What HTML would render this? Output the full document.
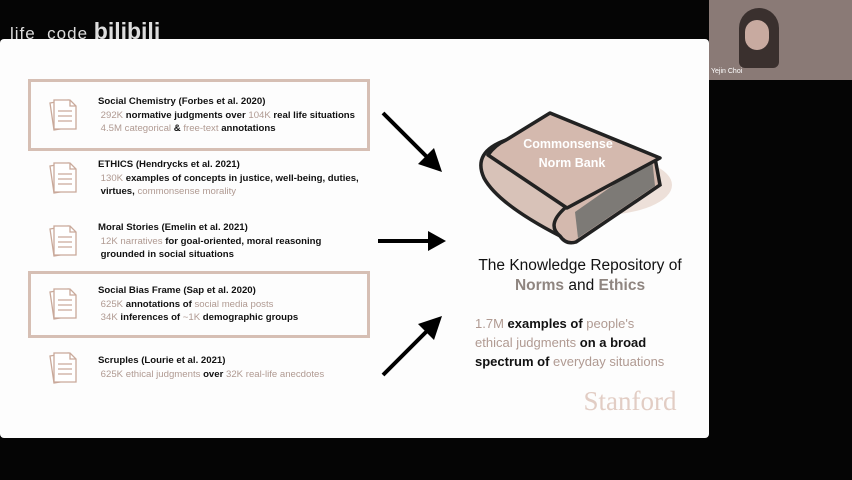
<!DOCTYPE html>
<html><head><style>
body{margin:0;width:852px;height:480px;background:#050505;position:relative;overflow:hidden;font-family:"Liberation Sans","DejaVu Sans",sans-serif}
.slide{position:absolute;left:0;top:39px;width:709px;height:399px;background:#fdfdfd;border-radius:4px}
.wm{position:absolute;left:10px;top:18px;color:#ddd;font-size:17px;letter-spacing:1px}
.wm b{font-size:23px;font-weight:bold;letter-spacing:0}
.cam{position:absolute;left:709px;top:0;width:143px;height:80px;background:#8a7a76}
.box{position:absolute;left:28px;width:336px;border:3px solid #d6bfb4}
.item{position:absolute;left:98px;font-size:9.6px;font-weight:bold;color:#111;line-height:13.5px;white-space:nowrap}
.item .t{font-size:9.6px}
.h{color:#b09a92;font-weight:normal}
.big{position:absolute;font-size:15.5px;color:#111;text-align:center;width:280px;left:440px}
</style></head><body>
<div class="wm">life&nbsp; code <b>bilibili</b></div>
<div class="cam">
<div style="position:absolute;left:30px;top:8px;width:40px;height:60px;background:#3a302e;border-radius:20px 20px 6px 6px"></div>
<div style="position:absolute;left:36px;top:20px;width:24px;height:30px;background:#c8aaa0;border-radius:12px"></div>
<div style="position:absolute;left:2px;top:68px;font-size:7px;color:#fff">Yejin Choi</div>
</div>
<div class="slide"></div>
<div class="box" style="top:79px;height:66px"></div>
<div class="box" style="top:271px;height:61px"></div>

<svg style="position:absolute;left:0;top:0" width="852" height="480">
<defs><g id="doc" fill="#fff" stroke="#c9a99a" stroke-width="1.3">
<path d="M2 6 L20 3 L24 30 L6 33 Z"/>
<path d="M6 3 L22 3 L28 9 L28 32 L6 32 Z"/>
<path d="M22 3 L22 9 L28 9" fill="none"/>
<path d="M10 14 H24 M10 19 H24 M10 24 H24" />
</g></defs>
<use href="#doc" x="48" y="97"/>
<use href="#doc" x="48" y="160"/>
<use href="#doc" x="48" y="223"/>
<use href="#doc" x="48" y="286"/>
<use href="#doc" x="48" y="350"/>
<g stroke="#000" stroke-width="4" fill="#000">
<line x1="383" y1="113" x2="430" y2="160"/><polygon points="442,172 418,164 434,148" stroke="none"/>
<line x1="378" y1="241" x2="430" y2="241"/><polygon points="446,241 428,231 428,251" stroke="none"/>
<line x1="383" y1="375" x2="430" y2="328"/><polygon points="442,316 418,324 434,340" stroke="none"/>
</g>
<ellipse cx="600" cy="185" rx="72" ry="30" fill="#e8d8d0" opacity="0.8"/>
<path d="M506 140 Q472 152 484 178 Q498 204 560 236 L600 180 Z" fill="#d8c2b8" stroke="#222" stroke-width="3.5"/>
<path d="M560 236 Q546 225 565 208 L655 158 L660 185 L576 242 Q566 245 560 236 Z" fill="#d4b9ae" stroke="#222" stroke-width="3.5"/>
<path d="M652 158 L655 186 L578 238 L575 212 Z" fill="#7d7a76"/>
<path d="M506 140 L550 113 L660 158 L567 208 L488 155 Q495 145 506 140 Z" fill="#d4b9ae" stroke="#222" stroke-width="3.5" stroke-linejoin="round"/>
<text x="568" y="148" font-size="12.5" font-weight="bold" fill="#fff" text-anchor="middle" font-family="Liberation Sans">Commonsense</text>
<text x="572" y="167" font-size="12.5" font-weight="bold" fill="#fff" text-anchor="middle" font-family="Liberation Sans">Norm Bank</text>
<text x="630" y="410" font-size="27" fill="#e2cdc4" text-anchor="middle" font-family="Liberation Serif">Stanford</text>
</svg>

<div class="item" style="top:95px"><span class="t">Social Chemistry (Forbes et al. 2020)</span><br>&nbsp;<span class="h">292K</span> normative judgments over <span class="h">104K</span> real life situations<br>&nbsp;<span class="h">4.5M categorical</span> &amp; <span class="h">free-text</span> annotations</div>
<div class="item" style="top:158px"><span class="t">ETHICS (Hendrycks et al. 2021)</span><br>&nbsp;<span class="h">130K</span> examples of concepts in justice, well-being, duties,<br>&nbsp;virtues, <span class="h">commonsense morality</span></div>
<div class="item" style="top:221px"><span class="t">Moral Stories (Emelin et al. 2021)</span><br>&nbsp;<span class="h">12K narratives</span> for goal-oriented, moral reasoning<br>&nbsp;grounded in social situations</div>
<div class="item" style="top:284px"><span class="t">Social Bias Frame (Sap et al. 2020)</span><br>&nbsp;<span class="h">625K</span> annotations of <span class="h">social media posts</span><br>&nbsp;<span class="h">34K</span> inferences of <span class="h">~1K</span> demographic groups</div>
<div class="item" style="top:354px"><span class="t">Scruples (Lourie et al. 2021)</span><br>&nbsp;<span class="h">625K ethical judgments</span> over <span class="h">32K real-life anecdotes</span></div>

<div class="big" style="top:257px">The Knowledge Repository of</div>
<div class="big" style="top:277px;font-weight:bold"><span style="color:#8f8580">Norms</span> <span style="font-weight:normal">and</span> <span style="color:#8f8580">Ethics</span></div>
<div style="position:absolute;left:475px;top:314px;font-size:13px;line-height:19px;font-weight:bold;color:#111;white-space:nowrap"><span class="h">1.7M</span> examples of <span class="h">people's</span><br><span class="h">ethical judgments</span> on a broad<br>spectrum of <span class="h">everyday situations</span></div>
</body></html>
